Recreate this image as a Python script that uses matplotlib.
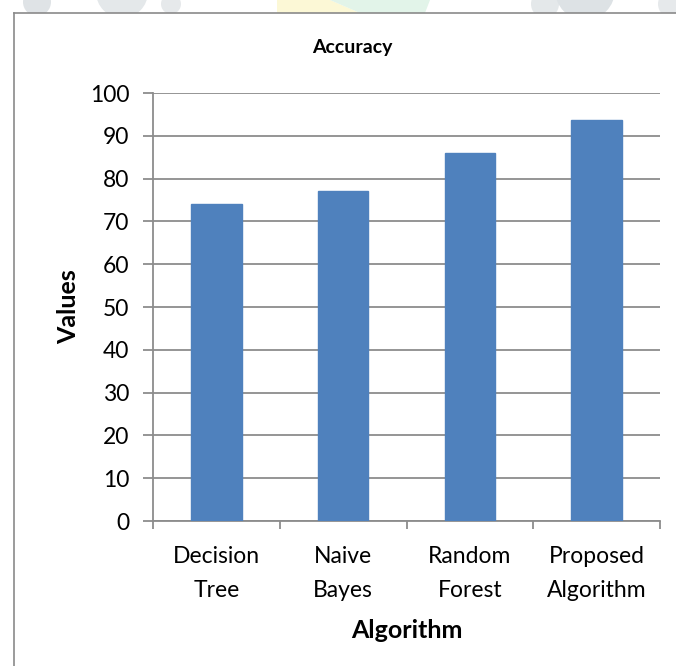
import numpy as np
import matplotlib
matplotlib.use("Agg")
import matplotlib.pyplot as plt
from matplotlib.lines import Line2D
from matplotlib.patches import Ellipse, Polygon

# Accuracy per classifier (%)
algorithms = ["Decision\nTree", "Naive\nBayes", "Random\nForest", "Proposed\nAlgorithm"]
accuracy = [74, 77, 86, 93.8]
y_ticks = [0, 10, 20, 30, 40, 50, 60, 70, 80, 90, 100]

plt.rcParams['font.family'] = ['Lato', 'DejaVu Sans']

W, H = 676, 666
fig = plt.figure(figsize=(W / 100, H / 100), dpi=100)
fig.patch.set_facecolor('white')

# faint page watermark along the top strip
bg = fig.add_axes([0, 0, 1, 1], zorder=-5)
bg.set_xlim(0, W)
bg.set_ylim(H, 0)
bg.axis('off')
strip = plt.Rectangle((0, 0), W, 13, transform=bg.transData)
for cx, cy, r, col in [(37, 2, 14, '#dfe3e6'), (122, -8, 26, '#e4e8ea'), (171, 4, 10, '#e6e9eb'),
                       (545, 4, 14, '#e4e8ea'), (585, -10, 30, '#dde2e5'), (672, 4, 14, '#e6e9eb')]:
    e = Ellipse((cx, cy), 2 * r, 2 * r, color=col, lw=0)
    bg.add_patch(e)
    e.set_clip_path(strip)
wedge_y = Polygon([(277, 0), (330, 0), (360, 13), (277, 13)], color='#fcf8d6', lw=0)
wedge_g = Polygon([(330, 0), (430, 0), (425, 13), (360, 13)], color='#e2f4e9', lw=0)
for p in (wedge_y, wedge_g):
    bg.add_patch(p)
    p.set_clip_path(strip)

# chart frame (runs off the right and bottom edges)
fig.add_artist(Line2D([14 / W, 1.0], [1 - 13 / H, 1 - 13 / H], color='#8a8a8a', lw=1.2))
fig.add_artist(Line2D([14 / W, 14 / W], [0.0, 1 - 13 / H], color='#8a8a8a', lw=1.2))

ax = fig.add_axes([153 / W, 1 - 521 / H, 507 / W, 428 / H])
x = np.arange(len(algorithms))
ax.bar(x, accuracy, width=0.4, color='#4f81bd', edgecolor='#4f81bd', zorder=3)

ax.set_xlim(-0.5, len(algorithms) - 0.5)
ax.set_ylim(0, 100)
ax.set_yticks(y_ticks)
ax.yaxis.grid(True, color='#8c8c8c', lw=1.3)
ax.set_axisbelow(True)

for side in ('top', 'right'):
    ax.spines[side].set_visible(False)
for side in ('left', 'bottom'):
    ax.spines[side].set_color('#8c8c8c')
    ax.spines[side].set_linewidth(1.3)

ax.set_xticks(np.arange(-0.5, len(algorithms)), labels=[])
ax.set_xticks(x, labels=algorithms, minor=True)
ax.tick_params(axis='x', which='major', direction='out', length=6, width=1.3, color='#8c8c8c')
ax.tick_params(axis='x', which='minor', length=0, pad=18, labelsize=16.5)
ax.tick_params(axis='y', direction='out', length=7, width=1.3, color='#8c8c8c', pad=10, labelsize=16.5)
for lbl in ax.get_xticklabels(minor=True):
    lbl.set_linespacing(1.75)

ax.set_ylabel('Values', fontsize=18, fontweight='bold', labelpad=7)
ax.set_xlabel('Algorithm', fontsize=18, fontweight='bold', labelpad=13)

fig.text(352 / W, 1 - 48 / H, 'Accuracy', ha='center', va='center', fontsize=14, fontweight='bold')

fig.savefig('out.png', dpi=100)
